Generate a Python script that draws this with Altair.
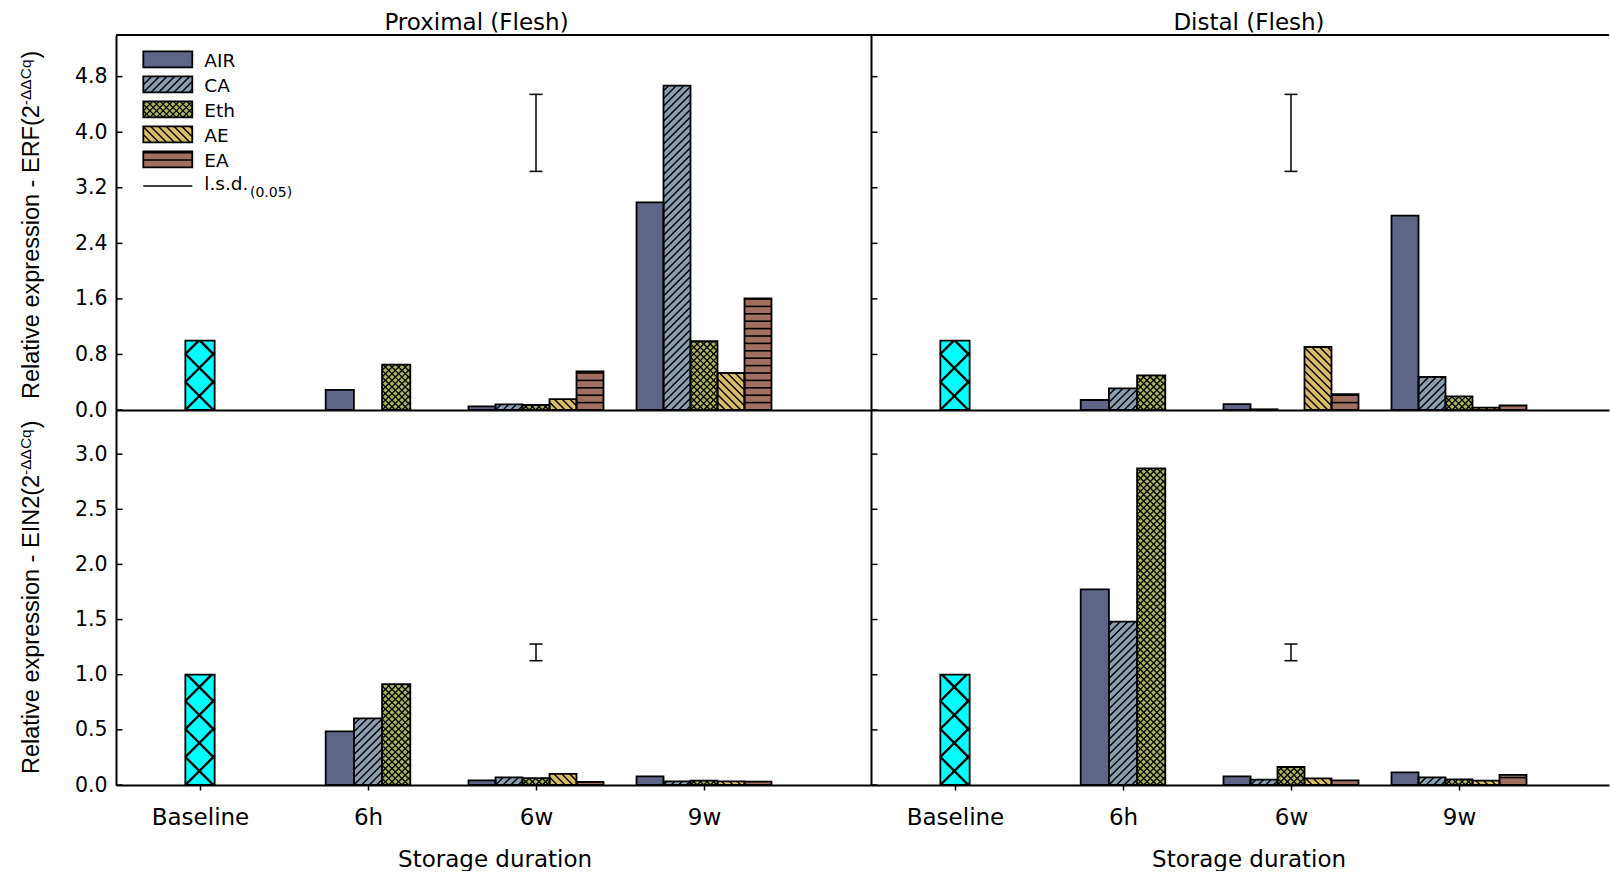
import altair as alt
import numpy as np
import pandas as pd

# ---------------- data ----------------
groups = ["Baseline", "6h", "6w", "9w"]
series = ["AIR", "CA", "Eth", "AE", "EA"]
members = {"Baseline": ["Baseline"], "6h": ["AIR", "CA", "Eth"], "6w": series, "9w": series}

# ERF, Proximal (Flesh)
erf_prox_baseline = [1.0]
erf_prox_6h = [0.29, 0.0, 0.652]
erf_prox_6w = [0.052, 0.081, 0.072, 0.158, 0.556]
erf_prox_9w = [2.99, 4.67, 0.99, 0.533, 1.607]
erf_prox_lsd = [3.436, 4.545]

# ERF, Distal (Flesh)
erf_dist_baseline = [1.0]
erf_dist_6h = [0.144, 0.311, 0.498]
erf_dist_6w = [0.086, 0.010, 0.0, 0.907, 0.230]
erf_dist_9w = [2.80, 0.475, 0.196, 0.035, 0.065]
erf_dist_lsd = [3.436, 4.545]

# EIN2, Proximal (Flesh)
ein_prox_baseline = [1.0]
ein_prox_6h = [0.486, 0.604, 0.914]
ein_prox_6w = [0.042, 0.069, 0.063, 0.100, 0.027]
ein_prox_9w = [0.078, 0.032, 0.040, 0.032, 0.030]
ein_prox_lsd = [1.127, 1.278]

# EIN2, Distal (Flesh)
ein_dist_baseline = [1.0]
ein_dist_6h = [1.773, 1.481, 2.870]
ein_dist_6w = [0.078, 0.048, 0.163, 0.060, 0.042]
ein_dist_9w = [0.114, 0.069, 0.051, 0.039, 0.091]
ein_dist_lsd = [1.127, 1.278]

erf_ticks = [0.0, 0.8, 1.6, 2.4, 3.2, 4.0, 4.8]
ein_ticks = [0.0, 0.5, 1.0, 1.5, 2.0, 2.5, 3.0]
ERF_MAX, EIN_MAX = 5.4, 3.4

# ---------------- style ----------------
FILL = {"Baseline": "#00ffff", "AIR": "#5e6587", "CA": "#8b9db1",
        "Eth": "#abb362", "AE": "#d8bc68", "EA": "#a16f5f"}
HATCH = {"Baseline": ("cross", 28.0, 2.4), "CA": ("fwd", 7.6, 1.4),
         "Eth": ("cross", 6.6, 1.3), "AE": ("back", 7.8, 1.4), "EA": ("horiz", 7.4, 1.6)}
BAR_PX = {"Baseline": 29.3, "6h": 28.2, "6w": 27.0, "9w": 27.0}
PX = 168.0          # pixels per category step
W_LEFT, W_RIGHT, H = 755, 738, 375
HFONT = "DejaVu Sans"
VFONT = "Liberation Sans"

ARIAL = {"R": 722, "e": 556, "l": 222, "a": 556, "t": 278, "i": 222, "v": 500, " ": 278,
         "x": 500, "p": 556, "r": 333, "s": 500, "o": 556, "n": 556, "-": 333, "E": 667,
         "F": 611, "(": 333, "2": 556, "I": 278, "N": 722, "Δ": 668, "C": 722, "q": 556, ")": 333}


def arial_len(s, size):
    return sum(ARIAL.get(c, 556) for c in s) * size / 1000.0


def hatch_px(kind, p, w, h):
    segs = []
    eps = 0.4
    if kind in ("fwd", "cross"):
        for k in range(int(np.ceil(-w / p)), int(np.floor(h / p)) + 1):
            c = k * p
            xs, xe = max(0.0, -c), min(w, h - c)
            if xe - xs > eps:
                segs.append((xs, xs + c, xe, xe + c))
    if kind in ("back", "cross"):
        for k in range(0, int(np.ceil((w + h) / p)) + 1):
            c = k * p
            xs, xe = max(0.0, c - h), min(w, c)
            if xe - xs > eps:
                segs.append((xs, c - xs, xe, c - xe))
    if kind == "horiz":
        k = 1
        while k * p < h - eps:
            segs.append((0.0, k * p, w, k * p))
            k += 1
    return segs


ONE = pd.DataFrame({"a": [1]})


def text_layer(t, x, y, size, font=HFONT, angle=0, align="left", baseline="alphabetic"):
    return alt.Chart(ONE).mark_text(text=t, font=font, fontSize=size, angle=angle, align=align,
                                    baseline=baseline, color="black").encode(
        x=alt.value(x), y=alt.value(y))


def panel(vals, lsd, ymax, ticks, width, left, top, texts, legend=False):
    py = H / ymax
    xs = alt.Scale(domain=[0.5, 0.5 + width / PX], nice=False, zero=False)
    ys = alt.Scale(domain=[0, ymax], nice=False)
    bars, hat = [], []

    def add_box(s, x0, bw_px, yb, h_px):
        bars.append({"x": x0, "x2": x0 + bw_px / PX, "y": yb, "y2": yb + h_px / py, "fill": FILL[s]})
        if s in HATCH:
            kind, p, sw = HATCH[s]
            for (a, b, c, d) in hatch_px(kind, p, bw_px, h_px):
                hat.append({"x": x0 + a / PX, "y": yb + b / py, "x2": x0 + c / PX,
                            "y2": yb + d / py, "sw": sw})

    for gi, g in enumerate(groups):
        mem = members[g]
        n = len(mem)
        bw_px = BAR_PX[g]
        bw = bw_px / PX
        for i, (s, v) in enumerate(zip(mem, vals[gi])):
            if v <= 0:
                continue
            xc = gi + 1 + (i - (n - 1) / 2) * bw
            add_box(s, xc - bw / 2, bw_px, 0.0, v * py)

    if legend:
        for i, s in enumerate(series):
            topp = 16.4 + 25 * i
            add_box(s, 0.5 + 27.3 / PX, 49.0, ymax - (topp + 16) / py, 16.0)

    bars_df = pd.DataFrame(bars)
    hat_df = pd.DataFrame(hat)

    if top:
        xaxis = alt.Axis(values=[1, 2, 3, 4], ticks=False, labels=False, grid=False,
                         domainColor="black", domainWidth=2)
        xtitle = ""
    else:
        xaxis = alt.Axis(values=[1, 2, 3, 4],
                         labelExpr="['Baseline','6h','6w','9w'][datum.value - 1]",
                         labelFont=HFONT, labelFontSize=23, labelColor="black",
                         labelBaseline="alphabetic", labelPadding=34.5, labelFlush=False,
                         labelOverlap=False, tickSize=5, tickWidth=1.5, tickColor="black",
                         domainColor="black", domainWidth=2, grid=False,
                         titleFont=HFONT, titleFontSize=23, titleFontWeight="normal",
                         titleColor="black", titleX=(378.6 if left else 377.6), titleY=81,
                         titleBaseline="alphabetic", titleAlign="center")
        xtitle = "Storage duration"
    if left:
        yaxis = alt.Axis(values=ticks, format=".1f", ticks=False, tickSize=0, labelPadding=9,
                         labelFont=HFONT, labelFontSize=20.5, labelColor="black",
                         labelOverlap=False, labelFlush=False,
                         domainColor="black", domainWidth=2, grid=False)
    else:
        yaxis = alt.Axis(values=ticks, ticks=False, labels=False, domainColor="black",
                         domainWidth=2, grid=False)

    def X(f):
        return alt.X(f, scale=xs, axis=xaxis, title=xtitle)

    def Y(f):
        return alt.Y(f, scale=ys, axis=yaxis, title="")

    layers = []
    layers.append(alt.Chart(bars_df).mark_rect(strokeWidth=0).encode(
        x=X("x:Q"), x2="x2:Q", y=Y("y:Q"), y2="y2:Q",
        fill=alt.Fill("fill:N", scale=None)))
    layers.append(alt.Chart(hat_df).mark_rule(color="black").encode(
        x=X("x:Q"), x2="x2:Q", y=Y("y:Q"), y2="y2:Q",
        strokeWidth=alt.StrokeWidth("sw:Q", scale=None)))
    layers.append(alt.Chart(bars_df).mark_rect(fillOpacity=0, stroke="black", strokeWidth=1.8).encode(
        x=X("x:Q"), x2="x2:Q", y=Y("y:Q"), y2="y2:Q"))

    lsd_df = pd.DataFrame({"x": [3.0], "y": [lsd[0]], "y2": [lsd[1]]})
    cap_df = pd.DataFrame({"x": [3.0, 3.0], "y": lsd})
    layers.append(alt.Chart(lsd_df).mark_rule(color="#111", strokeWidth=1.6).encode(
        x=X("x:Q"), y=Y("y:Q"), y2="y2:Q"))
    layers.append(alt.Chart(cap_df).mark_tick(orient="horizontal", size=13, thickness=1.6,
                                              color="#111", opacity=1).encode(
        x=X("x:Q"), y=Y("y:Q")))

    # inward y ticks
    layers.append(alt.Chart(pd.DataFrame({"y": ticks})).mark_rule(color="black", strokeWidth=1.5).encode(
        y=Y("y:Q"), x=alt.value(0), x2=alt.value(6.5)))

    if top:
        layers.append(alt.Chart(ONE).mark_rule(color="black", strokeWidth=2).encode(
            x=alt.value(0), x2=alt.value(width), y=alt.value(0)))

    if legend:
        layers.append(alt.Chart(ONE).mark_rule(color="black", strokeWidth=1.5).encode(
            x=alt.value(27.3), x2=alt.value(76.3), y=alt.value(151)))
        for i, s in enumerate(series):
            layers.append(text_layer(s, 88.3, 31.7 + 25 * i, 18.5))
        layers.append(text_layer("l.s.d.", 88.3, 155, 18.5))
        layers.append(text_layer("(0.05)", 134, 161.7, 14))
        # layout anchor (fixes the page origin)
        layers.append(alt.Chart(ONE).mark_point(filled=True, size=0, opacity=0).encode(
            x=alt.value(-116), y=alt.value(-34.3)))

    layers.extend(texts)
    return alt.layer(*layers).properties(width=width, height=H)


def ytitle(gene):
    main = "Relative expression - " + gene + "(2"
    sup = "-ΔΔCq"
    y0 = 364
    lm = arial_len(main, 23.5)
    ls = arial_len(sup, 15.5)
    return [
        text_layer(main, -77, y0, 23.5, font=VFONT, angle=270),
        text_layer(sup, -85, y0 - lm, 15.5, font=VFONT, angle=270),
        text_layer(")", -77, y0 - lm - ls - 1, 23.5, font=VFONT, angle=270),
    ]


tl = panel([erf_prox_baseline, erf_prox_6h, erf_prox_6w, erf_prox_9w], erf_prox_lsd, ERF_MAX,
           erf_ticks, W_LEFT, True, True,
           [text_layer("Proximal (Flesh)", 360.5, -4.8, 23, align="center")] + ytitle("ERF"),
           legend=True)
tr = panel([erf_dist_baseline, erf_dist_6h, erf_dist_6w, erf_dist_9w], erf_dist_lsd, ERF_MAX,
           erf_ticks, W_RIGHT, False, True,
           [text_layer("Distal (Flesh)", 378, -4.8, 23, align="center")])
bl = panel([ein_prox_baseline, ein_prox_6h, ein_prox_6w, ein_prox_9w], ein_prox_lsd, EIN_MAX,
           ein_ticks, W_LEFT, True, False, ytitle("EIN2"))
br = panel([ein_dist_baseline, ein_dist_6h, ein_dist_6w, ein_dist_9w], ein_dist_lsd, EIN_MAX,
           ein_ticks, W_RIGHT, False, False, [])

chart = alt.concat(tl, tr, bl, br, columns=2, spacing=0, bounds="flush").properties(
    padding={"left": 0, "top": 0, "right": 0, "bottom": 0}, background="white"
).configure_view(strokeWidth=0)

chart.save("out.html", embed_options={"renderer": "svg", "actions": False})
